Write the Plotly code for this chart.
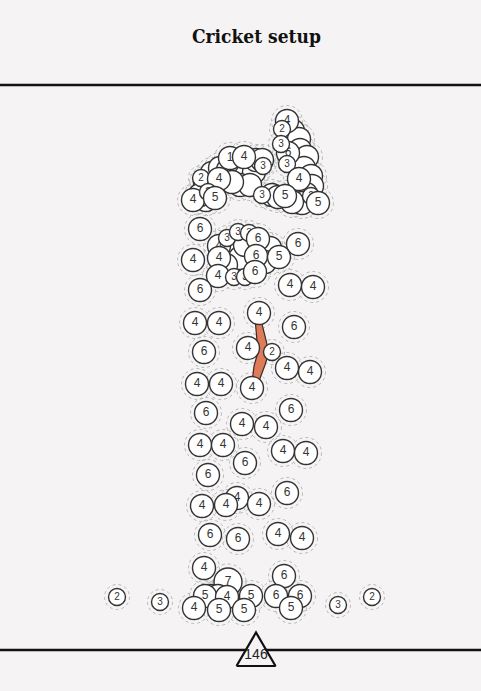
import plotly.graph_objects as go

# ---- data ----
TITLE = "Cricket setup"
TOTAL_RUNS = 146

ball_x = [
    # top stem cluster (blank / dot balls first)
    293, 299, 300, 307, 304, 311, 312, 306, 297, 272, 278, 302, 292,
    # left arm blanks
    205, 212, 220, 228, 235, 236, 246, 254, 256, 262, 206, 213, 200, 240, 250, 232,
    # labelled top
    288, 287, 282, 281, 287, 299, 262, 285, 311, 318,
    230, 201, 219, 193, 208, 215, 244, 263,
    # middle cluster blanks
    230, 240, 245, 270, 265, 226,
    # middle cluster labelled
    200, 219, 227, 238, 249, 258, 298, 193, 219, 256, 279, 218, 234, 245, 255, 200, 290, 313,
    # stem
    195, 219, 259, 294, 204, 248, 272, 287, 310, 197, 221, 252,
    206, 291, 242, 266, 200, 223, 283, 306, 245, 208, 287, 237, 202, 226, 259,
    210, 238, 278, 302,
    # base
    204, 228, 117, 160, 212, 218, 205, 227, 251, 284, 276, 300, 194, 219, 244, 291, 338, 372,
]
ball_y = [
    131, 139, 150, 157, 168, 176, 186, 194, 199, 195, 197, 203, 202,
    182, 173, 168, 170, 165, 178, 176, 172, 160, 160, 200, 192, 195, 185, 185, 182,
    153, 121, 129, 144, 164, 179, 195, 196, 196, 203,
    158, 178, 179, 200, 192, 198, 157, 166,
    248, 258, 245, 248, 262, 265,
    229, 246, 238, 232, 233, 239, 244, 260, 258, 256, 257, 276, 277, 277, 272, 290, 285, 287,
    323, 323, 313, 327, 352, 348, 352, 368, 372, 384, 384, 388,
    413, 410, 424, 427, 445, 445, 451, 453, 463, 475, 493, 498, 506, 505, 504,
    535, 539, 534, 538,
    568, 582, 597, 602, 596, 596, 596, 597, 596, 576, 596, 596, 608, 610, 610, 608, 605, 597,
]
ball_runs = [
    0, 0, 0, 0, 0, 0, 0, 0, 0, 0, 0, 0, 0,
    0, 0, 0, 0, 0, 0, 0, 0, 0, 0, 0, 0, 0, 0, 0, 0,
    6, 4, 2, 3, 3, 4, 3, 5, 2, 5,
    1, 2, 4, 4, 2, 5, 4, 3,
    0, 0, 0, 0, 0, 0,
    6, 4, 3, 3, 3, 6, 6, 4, 4, 6, 5, 4, 3, 3, 6, 6, 4, 4,
    4, 4, 4, 6, 6, 4, 2, 4, 4, 4, 4, 4,
    6, 6, 4, 4, 4, 4, 4, 4, 6, 6, 6, 4, 4, 4, 4,
    6, 6, 4, 4,
    4, 7, 2, 3, 0, 0, 5, 4, 5, 6, 6, 6, 4, 5, 5, 5, 3, 2,
]

# bat outline (pixel space)
bat_x = [255.5, 262, 266.5, 268.5, 265, 259, 252, 254, 258, 256.5, 255.5]
bat_y = [324, 324, 342, 354, 365, 381, 383, 366, 352, 338, 324]

TRI_X, TRI_Y = 256, 650

# ---- styles ----
BG = "#f5f3f4"
INK = "#333333"
SIZE = {0: 23, 1: 23, 2: 17, 3: 17, 4: 23, 5: 23, 6: 23, 7: 28}

fig = go.Figure()
shapes = []

# dashed halo rings
for x, y, r in zip(ball_x, ball_y, ball_runs):
    R = (SIZE[r] + 8) / 2
    shapes.append(dict(type="circle", xref="x", yref="y", x0=x - R, x1=x + R,
                       y0=y - R, y1=y + R, layer="below",
                       line=dict(color="#b8b8b8", width=1, dash="dot")))

# bat
fig.add_trace(go.Scatter(x=bat_x, y=bat_y, mode="lines", fill="toself",
                         fillcolor="#e07b5a", line=dict(color="#3a2a25", width=1.2),
                         hoverinfo="skip", showlegend=False))

# balls, one trace each so later balls cover earlier labels
for x, y, r in zip(ball_x, ball_y, ball_runs):
    fig.add_trace(go.Scatter(
        x=[x], y=[y], mode="markers+text",
        text=[str(r) if r > 0 else ""], textposition="middle center",
        textfont=dict(family="Liberation Sans, Arial", size=12 if SIZE[r] > 20 else 10, color=INK),
        marker=dict(size=SIZE[r], color="white", line=dict(color=INK, width=1.4)),
        hoverinfo="skip", showlegend=False, cliponaxis=False))

# horizontal rules
for yy in (85, TRI_Y):
    shapes.append(dict(type="line", xref="paper", yref="y", x0=0, x1=1, y0=yy, y1=yy,
                       line=dict(color="#111111", width=2.5), layer="below"))

# total triangle
hw, up, dn = 19.5, 17.5, 16
fig.add_trace(go.Scatter(x=[TRI_X - hw, TRI_X, TRI_X + hw, TRI_X - hw],
                         y=[TRI_Y + dn, TRI_Y - up, TRI_Y + dn, TRI_Y + dn],
                         mode="lines", fill="toself", fillcolor=BG,
                         line=dict(color="#111111", width=2.2),
                         hoverinfo="skip", showlegend=False))
fig.add_trace(go.Scatter(x=[TRI_X], y=[TRI_Y + 5], mode="text", text=[str(TOTAL_RUNS)],
                         textfont=dict(family="Liberation Sans, Arial", size=14, color="#222"),
                         hoverinfo="skip", showlegend=False))

fig.update_layout(
    width=481, height=691,
    margin=dict(l=0, r=0, t=0, b=0),
    paper_bgcolor=BG, plot_bgcolor=BG,
    xaxis=dict(range=[0, 481], visible=False, fixedrange=True),
    yaxis=dict(range=[691, 0], visible=False, fixedrange=True),
    shapes=shapes,
    annotations=[dict(text="<b>" + TITLE + "</b>", x=256, y=36, xref="x", yref="y",
                      showarrow=False,
                      font=dict(family="DejaVu Serif Condensed", size=19, color="#111"))],
)

fig.write_html("out.html", config={"displayModeBar": False},
               post_script="document.body.style.margin='0';document.body.style.overflow='hidden';")
